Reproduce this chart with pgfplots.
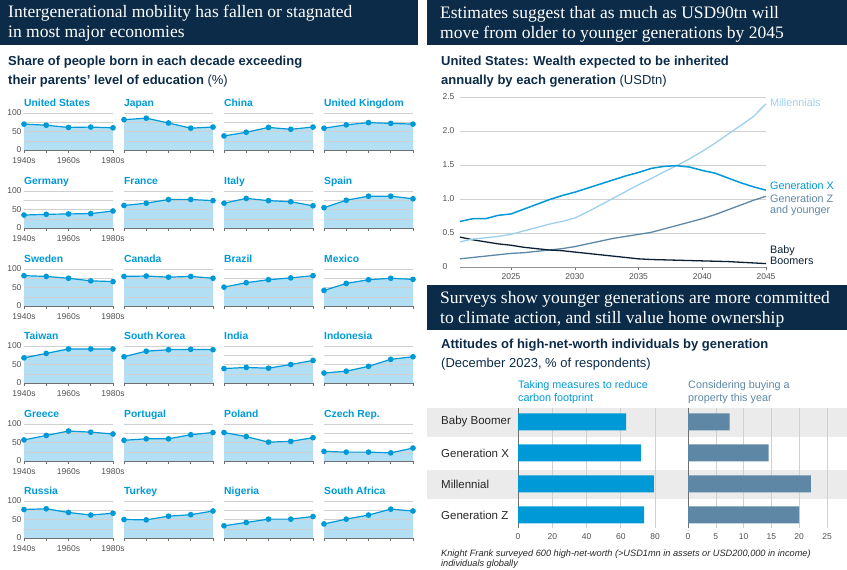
\documentclass[border=0pt]{standalone}
\usepackage{fontspec}
\setmainfont{Liberation Sans}
\newfontfamily\hdfont{Liberation Serif}
\usepackage{pgfplots}
\pgfplotsset{compat=1.18}
\definecolor{navy}{HTML}{0B2B48}
\definecolor{fcblue}{HTML}{0099D8}
\definecolor{fcfill}{HTML}{B2DFF4}
\definecolor{mill}{HTML}{9DD0EF}
\definecolor{slate}{HTML}{5E87A5}
\definecolor{boom}{HTML}{0A1F33}
\definecolor{band}{HTML}{EBEBEB}
\definecolor{gridc}{HTML}{D0D0D0}
\definecolor{tickc}{HTML}{505050}
\definecolor{axc}{HTML}{707070}
\newcommand\tickfont{\fontsize{8.5}{10}\selectfont}
\pgfplotsset{
  smbase/.style={scale only axis, width=89pt, height=37pt, anchor=south west,
    xmin=1940, xmax=1980, ymin=0, ymax=100, clip=false, set layers,
    axis x line*=bottom, axis y line*=left, axis line style={-},
    y axis line style={draw=none}, ytick style={draw=none},
    x axis line style={draw=axc, line width=0.8pt},
    xtick={1940,1950,1960,1970,1980}, xtick align=outside, major tick length=3pt,
    xtick style={draw=axc, line width=0.6pt},
    ytick={0,50,100}, minor ytick={25,75}, ymajorgrids, yminorgrids,
    grid style={gridc, line width=0.5pt}, minor grid style={gridc, line width=0.5pt},
    tick label style={font=\tickfont, text=tickc},
    xticklabel style={yshift=-1pt},
    yticklabel style={xshift=1pt}},
  first/.style={yticklabels={0,50,100}, xticklabels={1940s,,1960s,,1980s}},
  other/.style={yticklabels={,,}, xticklabels={,,,,}},
}
\newcommand{\sm}[9]{%
\begin{axis}[smbase,#1,at={(#2pt,-#3pt)}]
\addplot[on layer=axis background, fill=fcfill, draw=none] coordinates {(1940,#5)(1950,#6)(1960,#7)(1970,#8)(1980,#9)} \closedcycle;
\addplot[fcblue, line width=1.2pt, mark=*, mark size=2.2pt] coordinates {(1940,#5)(1950,#6)(1960,#7)(1970,#8)(1980,#9)};
\node[anchor=base west, inner sep=0pt, font=\bfseries\fontsize{10.3}{11}\selectfont, text=fcblue] at ([yshift=7pt]rel axis cs:0,1) {#4};
\end{axis}}
\begin{document}
\begin{tikzpicture}
% headers
\fill[navy] (0pt,0pt) rectangle (418pt,-45pt);
\fill[navy] (427pt,0pt) rectangle (847pt,-45pt);
\fill[navy] (427pt,-285pt) rectangle (847pt,-330pt);
\begin{scope}[every node/.style={anchor=base west, inner sep=0pt, text=white, font=\hdfont\fontsize{17.5}{20}\selectfont}]
\node at (8pt,-17pt) {Intergenerational mobility has fallen or stagnated};
\node at (8pt,-37pt) {in most major economies};
\node at (440pt,-18pt) {Estimates suggest that as much as USD90tn will};
\node at (440pt,-38pt) {move from older to younger generations by 2045};
\node at (440pt,-303pt) {Surveys show younger generations are more committed};
\node at (440pt,-323pt) {to climate action, and still value home ownership};
\end{scope}
\begin{scope}[every node/.style={anchor=base west, inner sep=0pt, text=navy, font=\fontsize{13}{15}\selectfont}]
\node at (8pt,-65pt) {\bfseries Share of people born in each decade exceeding};
\node at (8pt,-84pt) {\bfseries their parents’ level of education {\mdseries(\%)}};
\node at (441pt,-65pt) {\bfseries United States: Wealth expected to be inherited};
\node at (441pt,-84pt) {\bfseries annually by each generation {\mdseries(USDtn)}};
\node at (441pt,-348pt) {\bfseries Attitudes of high-net-worth individuals by generation};
\node at (441pt,-367pt) {(December 2023, \% of respondents)};
\end{scope}
% small multiples
\sm{first}{24}{150}{United States}{70}{67}{61}{62}{60}
\sm{other}{124}{150}{Japan}{82}{86}{73}{59}{62}
\sm{other}{224}{150}{China}{38}{48}{61}{56}{62}
\sm{other}{324}{150}{United Kingdom}{59}{68}{74}{72}{70}
\sm{first}{24}{228}{Germany}{35}{37}{38}{39}{46}
\sm{other}{124}{228}{France}{61}{67}{77}{77}{74}
\sm{other}{224}{228}{Italy}{67}{80}{74}{71}{60}
\sm{other}{324}{228}{Spain}{55}{75}{86}{86}{79}
\sm{first}{24}{306}{Sweden}{82}{80}{75}{68}{66}
\sm{other}{124}{306}{Canada}{80}{81}{78}{80}{75}
\sm{other}{224}{306}{Brazil}{51}{63}{71}{76}{82}
\sm{other}{324}{306}{Mexico}{42}{61}{71}{75}{72}
\sm{first}{24}{383}{Taiwan}{68}{80}{92}{92}{92}
\sm{other}{124}{383}{South Korea}{71}{86}{90}{91}{90}
\sm{other}{224}{383}{India}{39}{42}{40}{50}{61}
\sm{other}{324}{383}{Indonesia}{27}{32}{45}{64}{71}
\sm{first}{24}{461}{Greece}{57}{69}{81}{78}{73}
\sm{other}{124}{461}{Portugal}{56}{60}{60}{71}{77}
\sm{other}{224}{461}{Poland}{77}{66}{51}{53}{63}
\sm{other}{324}{461}{Czech Rep.}{26}{24}{24}{22}{35}
\sm{first}{24}{538}{Russia}{77}{79}{69}{62}{67}
\sm{other}{124}{538}{Turkey}{50}{49}{59}{63}{73}
\sm{other}{224}{538}{Nigeria}{33}{42}{51}{51}{58}
\sm{other}{324}{538}{South Africa}{38}{51}{62}{78}{73}
% line chart
\begin{axis}[scale only axis, anchor=south west, at={(460pt,-267pt)}, width=306pt, height=170pt,
  xmin=2021, xmax=2045, ymin=0, ymax=2.5, clip=false,
  axis x line*=bottom, axis y line*=left, axis line style={-},
  y axis line style={draw=none}, ytick style={draw=none},
  x axis line style={draw=gridc!70!black, line width=0.7pt},
  xtick={2025,2030,2035,2040,2045}, xtick align=outside, major tick length=3pt,
  xtick style={draw=axc, line width=0.5pt},
  xticklabel style={/pgf/number format/1000 sep={}},
  ytick={0,0.5,1,1.5,2,2.5}, yticklabels={0,0.5,1.0,1.5,2.0,2.5},
  yticklabel style={anchor=west, xshift=-21pt},
  ymajorgrids, grid style={gridc, line width=0.5pt},
  tick label style={font=\tickfont, text=tickc},
  /pgf/number format/assume math mode=true]
\addplot[slate, line width=1.3pt] coordinates {(2021,0.12)(2022,0.14)(2023,0.16)(2024,0.18)(2025,0.20)(2026,0.21)(2027,0.23)(2028,0.25)(2029,0.27)(2030,0.30)(2031,0.34)(2032,0.38)(2033,0.42)(2034,0.45)(2035,0.48)(2036,0.51)(2037,0.56)(2038,0.61)(2039,0.66)(2040,0.71)(2041,0.77)(2042,0.84)(2043,0.91)(2044,0.98)(2045,1.04)};
\addplot[boom, line width=1.3pt] coordinates {(2021,0.44)(2022,0.40)(2023,0.37)(2024,0.34)(2025,0.32)(2026,0.29)(2027,0.27)(2028,0.25)(2029,0.24)(2030,0.22)(2031,0.20)(2032,0.18)(2033,0.16)(2034,0.14)(2035,0.12)(2036,0.11)(2037,0.105)(2038,0.10)(2039,0.095)(2040,0.09)(2041,0.085)(2042,0.08)(2043,0.07)(2044,0.06)(2045,0.05)};
\addplot[mill, line width=1.3pt] coordinates {(2021,0.37)(2022,0.41)(2023,0.43)(2024,0.45)(2025,0.48)(2026,0.53)(2027,0.58)(2028,0.63)(2029,0.67)(2030,0.72)(2031,0.81)(2032,0.91)(2033,1.01)(2034,1.11)(2035,1.21)(2036,1.30)(2037,1.40)(2038,1.49)(2039,1.59)(2040,1.70)(2041,1.82)(2042,1.95)(2043,2.08)(2044,2.21)(2045,2.40)};
\addplot[fcblue, line width=1.5pt] coordinates {(2021,0.67)(2022,0.71)(2023,0.71)(2024,0.76)(2025,0.78)(2026,0.85)(2027,0.92)(2028,0.99)(2029,1.05)(2030,1.10)(2031,1.16)(2032,1.22)(2033,1.28)(2034,1.34)(2035,1.39)(2036,1.45)(2037,1.48)(2038,1.49)(2039,1.47)(2040,1.42)(2041,1.38)(2042,1.31)(2043,1.24)(2044,1.18)(2045,1.13)};
\end{axis}
\begin{scope}[every node/.style={anchor=base west, inner sep=0pt, font=\fontsize{10.8}{12}\selectfont}]
\node[text=mill] at (770pt,-106pt) {Millennials};
\node[text=fcblue] at (770pt,-189pt) {Generation X};
\node[text=slate] at (770pt,-202pt) {Generation Z};
\node[text=slate] at (770pt,-213pt) {and younger};
\node[text=boom] at (770pt,-253pt) {Baby};
\node[text=boom] at (770pt,-264pt) {Boomers};
\end{scope}
% bar section
\fill[band] (427pt,-408pt) rectangle (847pt,-437pt);
\fill[band] (427pt,-470pt) rectangle (847pt,-499pt);
\begin{scope}[every node/.style={anchor=base west, inner sep=0pt, font=\fontsize{10.8}{12}\selectfont}]
\node[text=fcblue] at (518pt,-388pt) {Taking measures to reduce};
\node[text=fcblue] at (518pt,-401pt) {carbon footprint};
\node[text=slate] at (688pt,-388pt) {Considering buying a};
\node[text=slate] at (688pt,-401pt) {property this year};
\end{scope}
\begin{scope}[every node/.style={anchor=west, inner sep=0pt, text=black!85, font=\fontsize{11.5}{13}\selectfont}]
\node at (441pt,-422pt) {Baby Boomer};
\node at (441pt,-453pt) {Generation X};
\node at (441pt,-484pt) {Millennial};
\node at (441pt,-515pt) {Generation Z};
\end{scope}
\pgfplotsset{barbase/.style={scale only axis, anchor=south west, height=120pt,
  ymin=0.55, ymax=4.42, y dir=reverse, xbar, bar width=17pt, bar shift=0pt,
  axis x line*=bottom, axis y line*=left, axis line style={draw=none},
  ytick=\empty, major tick length=0pt,
  xmajorgrids, grid style={gridc, line width=0.6pt},
  extra x ticks={0}, extra x tick labels={},
  extra x tick style={grid style={draw=axc, line width=0.8pt}},
  tick label style={font=\tickfont, text=tickc},
  xticklabel style={yshift=-2pt},
  /pgf/number format/assume math mode=true}}
\begin{axis}[barbase, at={(518pt,-528pt)}, width=137pt, xmin=0, xmax=80, xtick={0,20,40,60,80}]
\addplot[fill=fcblue, draw=none] coordinates {(63.1,1)(71.7,2)(79.4,3)(73.6,4)};
\end{axis}
\begin{axis}[barbase, at={(688pt,-528pt)}, width=139pt, xmin=0, xmax=25, xtick={0,5,10,15,20,25}]
\addplot[fill=slate, draw=none] coordinates {(7.5,1)(14.5,2)(22.1,3)(20.0,4)};
\end{axis}
\node[anchor=base west, inner sep=0pt, text=black!85, font=\itshape\fontsize{9.2}{10}\selectfont] at (441pt,-556pt) {Knight Frank surveyed 600 high-net-worth (>USD1mn in assets or USD200,000 in income)};
\node[anchor=base west, inner sep=0pt, text=black!85, font=\itshape\fontsize{9.2}{10}\selectfont] at (441pt,-566pt) {individuals globally};
\pgfresetboundingbox
\useasboundingbox (0pt,0pt) rectangle (847pt,-570pt);
\end{tikzpicture}
\end{document}
